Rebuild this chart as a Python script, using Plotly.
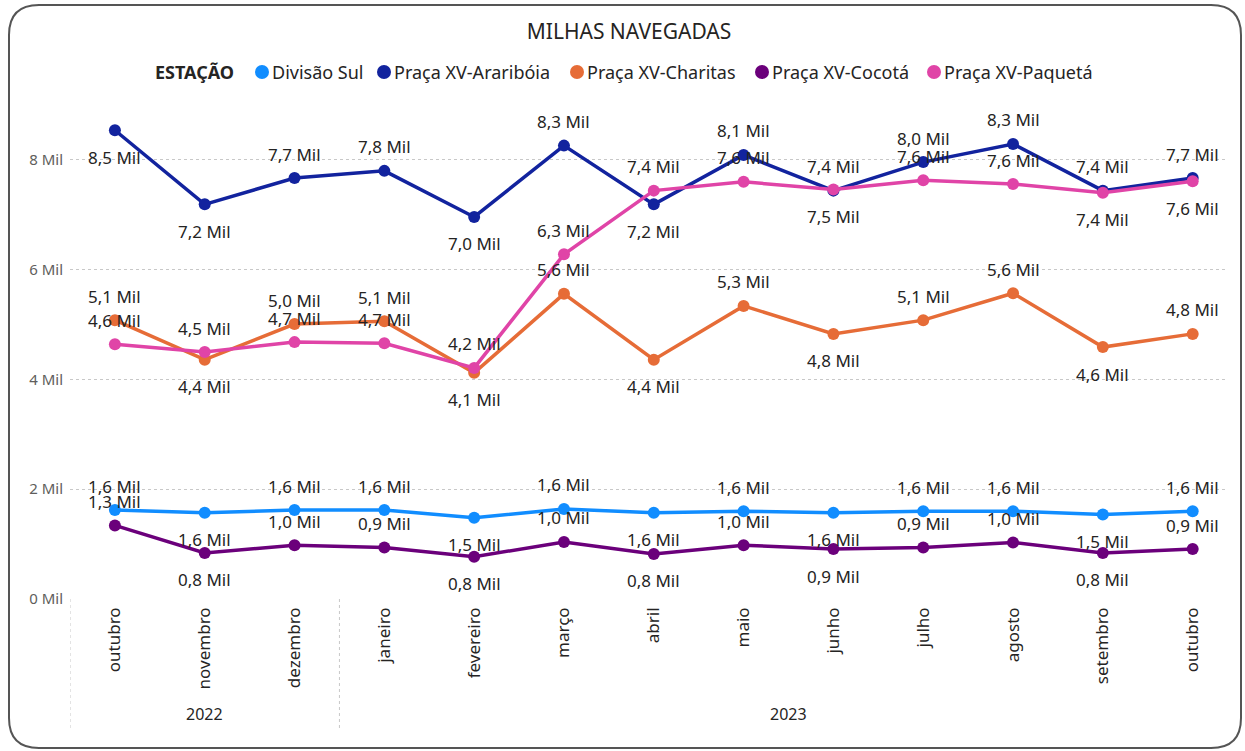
import plotly.graph_objects as go

months = ["outubro", "novembro", "dezembro", "janeiro", "fevereiro", "março", "abril",
          "maio", "junho", "julho", "agosto", "setembro", "outubro"]
years = ["2022", "2023"]

divisao_sul = [1620, 1570, 1620, 1620, 1480, 1640, 1570, 1600, 1570, 1600, 1600, 1540, 1600]
arariboia = [8540, 7190, 7670, 7800, 6960, 8260, 7190, 8090, 7440, 7960, 8290, 7440, 7670]
charitas = [5080, 4360, 5010, 5060, 4120, 5560, 4360, 5340, 4830, 5080, 5570, 4590, 4830]
cocota = [1340, 840, 980, 940, 770, 1040, 820, 980, 910, 940, 1030, 840, 910]
paqueta = [4640, 4500, 4680, 4660, 4210, 6280, 7440, 7600, 7460, 7630, 7560, 7400, 7610]

series_names = ["Divisão Sul", "Praça XV-Araribóia", "Praça XV-Charitas", "Praça XV-Cocotá", "Praça XV-Paquetá"]
series_values = [divisao_sul, arariboia, charitas, cocota, paqueta]
colors = ["#118DFF", "#12239E", "#E66C37", "#6B007B", "#E044A7"]
# label placement: 1 = above, -1 = below
label_sides = [
    [1, -1, 1, 1, -1, 1, -1, 1, -1, 1, 1, -1, 1],
    [-1, -1, 1, 1, -1, 1, -1, 1, 1, 1, 1, 1, 1],
    [1, -1, 1, 1, -1, 1, -1, 1, -1, 1, 1, -1, 1],
    [1, -1, 1, 1, -1, 1, -1, 1, -1, 1, 1, -1, 1],
    [1, 1, 1, 1, 1, 1, 1, 1, -1, 1, 1, -1, -1],
]
# legend layout (pixel x of each marker, text starts just right of it)
legend_marker_px = [262, 384, 577, 762, 934]

FONT = "Noto Sans"
TXT = "#252423"
PL, PR, PT, PB = 70, 1225, 105, 599  # plot area in page pixels
PW, PH = PR - PL, PB - PT


def px_x(p):
    return (p - PL) / PW


def px_y(p):
    return (PB - p) / PH


x = list(range(len(months)))

fig = go.Figure()
annotations = []
shapes = []
for name, vals, col, sides in zip(series_names, series_values, colors, label_sides):
    fig.add_trace(go.Scatter(x=x, y=vals, mode="lines+markers", name=name,
                             line=dict(color=col, width=3.5),
                             marker=dict(color=col, size=12),
                             showlegend=False))
    for xi, v, s in zip(x, vals, sides):
        annotations.append(dict(x=xi, y=v, xref="x", yref="y", showarrow=False,
                                text=f"{v/1000:.1f}".replace(".", ",") + " Mil",
                                yshift=24 if s > 0 else -27,
                                font=dict(family=FONT, size=17, color=TXT)))

# legend (title + coloured circles + names)
ly = px_y(72)
annotations.append(dict(x=px_x(153), y=ly, xref="paper", yref="paper", xanchor="left", yanchor="middle",
                        text="<b>ESTAÇÃO</b>", showarrow=False, font=dict(family=FONT, size=18, color=TXT)))
for name, col, mx in zip(series_names, colors, legend_marker_px):
    shapes.append(dict(type="circle", xref="paper", yref="paper", xsizemode="pixel", ysizemode="pixel",
                       xanchor=px_x(mx), yanchor=ly, x0=-7, x1=7, y0=-7, y1=7,
                       fillcolor=col, line=dict(width=0)))
    annotations.append(dict(x=px_x(mx + 8), y=ly, xref="paper", yref="paper", xanchor="left",
                            yanchor="middle", text=name, showarrow=False,
                            font=dict(family=FONT, size=18, color=TXT)))

# year group labels
annotations.append(dict(x=1, y=px_y(714), xref="x", yref="paper", text=years[0], showarrow=False,
                        yanchor="middle", font=dict(family=FONT, size=16, color=TXT)))
annotations.append(dict(x=7.5, y=px_y(714), xref="x", yref="paper", text=years[1], showarrow=False,
                        yanchor="middle", font=dict(family=FONT, size=16, color=TXT)))

for bx in [-0.5, 2.5]:
    shapes.append(dict(type="line", xref="x", yref="paper", x0=bx, x1=bx, y0=0, y1=px_y(728),
                       line=dict(color="#C8C8C8", width=1, dash="dot")))

# rounded border around the whole visual
L, R, T, B = px_x(9), px_x(1241), px_y(5), px_y(748)
rx, ry = 30 / PW, 30 / PH
path = (f"M {L+rx},{T} L {R-rx},{T} Q {R},{T} {R},{T-ry} L {R},{B+ry} Q {R},{B} {R-rx},{B} "
        f"L {L+rx},{B} Q {L},{B} {L},{B+ry} L {L},{T-ry} Q {L},{T} {L+rx},{T} Z")
shapes.append(dict(type="path", xref="paper", yref="paper", path=path,
                   line=dict(color="#555555", width=2)))

fig.update_layout(
    width=1245, height=751,
    margin=dict(l=PL, r=1245 - PR, t=PT, b=751 - PB),
    paper_bgcolor="white", plot_bgcolor="white",
    showlegend=False,
    title=dict(text="MILHAS NAVEGADAS", x=629 / 1245, xref="container", xanchor="center", y=1 - 32 / 751,
               yanchor="middle", font=dict(family=FONT, size=21, color=TXT)),
    xaxis=dict(tickmode="array", tickvals=x, ticktext=months, tickangle=-90,
               range=[-0.5, 12.36], showgrid=False, zeroline=False, showline=False,
               tickfont=dict(family=FONT, size=17, color=TXT), ticks="", ticklabelstandoff=4),
    yaxis=dict(range=[0, 9000], tickvals=[0, 2000, 4000, 6000, 8000],
               ticktext=["0 Mil", "2 Mil", "4 Mil", "6 Mil", "8 Mil"],
               showgrid=True, gridcolor="#C8C8C8", griddash="dot", gridwidth=1,
               zeroline=False, showline=False,
               tickfont=dict(family=FONT, size=15, color="#605E5C"), ticks="", ticklabelstandoff=6),
    annotations=annotations,
    shapes=shapes,
)

fig.write_html("out.html", config={"displayModeBar": False},
               post_script="document.body.style.margin='0';")
